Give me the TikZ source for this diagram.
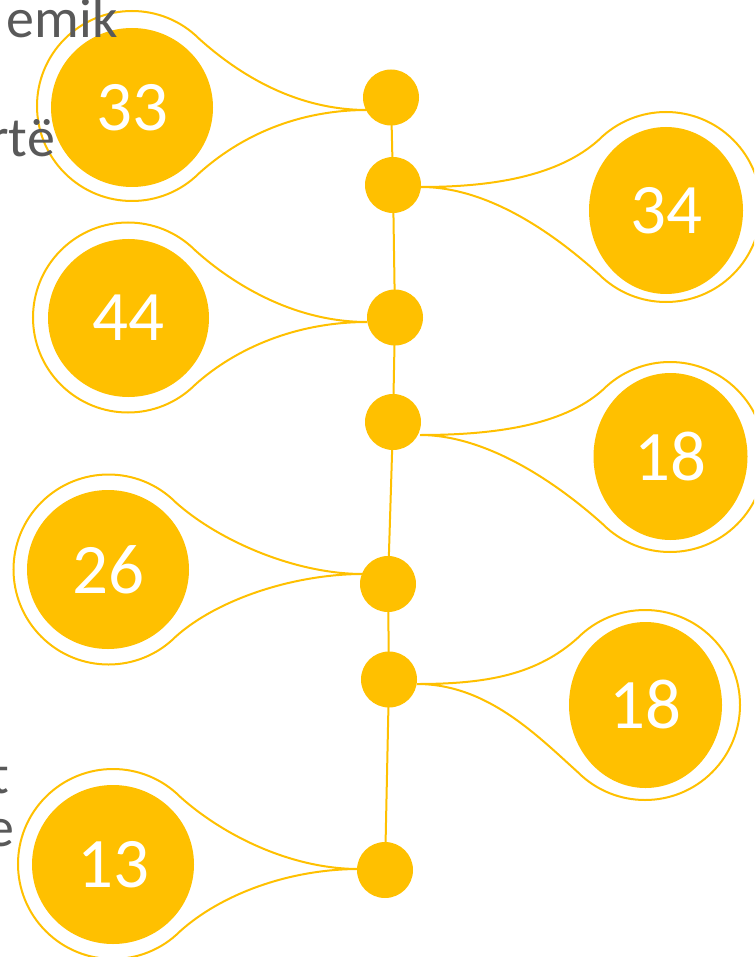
\documentclass[tikz,border=0pt]{standalone}
\usepackage{fontspec}
\setmainfont{Carlito}
\usetikzlibrary{shapes.geometric,calc}
\definecolor{gold}{HTML}{FFC000}
\definecolor{txtgray}{HTML}{595959}
\tikzset{
  txt/.style={text=txtgray, inner sep=0pt, font=\fontsize{56}{66}\selectfont},
  spine/.style={draw=gold, line width=2pt},
  ring/.style={draw=gold, line width=2pt},
  disc/.style={ellipse, fill=gold, draw=none, inner sep=0pt, text=white, font=\fontsize{71}{85}\selectfont},
  dot/.style={circle, fill=gold, draw=none, inner sep=0pt, minimum size=56pt},
}
\begin{document}
\begin{tikzpicture}[x=1pt, y=1pt]
\useasboundingbox (0,0) rectangle (754,-957);
\clip (0,0) rectangle (754,-957);
% dot coordinates
\coordinate (p1) at (391,-97.5);
\coordinate (p2) at (393,-185);
\coordinate (p3) at (395,-317.5);
\coordinate (p4) at (393,-422);
\coordinate (p5) at (388,-584);
\coordinate (p6) at (389,-679.5);
\coordinate (p7) at (385,-870);
% attach points
\coordinate (a1) at (367,-110);
\coordinate (a2) at (421,-187);
\coordinate (a3) at (367,-322);
\coordinate (a4) at (420,-435);
\coordinate (a5) at (363,-574);
\coordinate (a6) at (417,-684);
\coordinate (a7) at (359,-869);
% ring centers
\coordinate (c1) at (132,-106);
\coordinate (c2) at (666,-207);
\coordinate (c3) at (128,-317.5);
\coordinate (c4) at (670,-457);
\coordinate (c5) at (108.5,-569.5);
\coordinate (c6) at (645,-705);
\coordinate (c7) at (113,-864);
% spine
\draw[spine] (p1) -- (p2) -- (p3) -- (p4) -- (p5) -- (p6) -- (p7);
% left balloons
\foreach \i in {1,3,5,7}{
  \draw[ring] (a\i) .. controls +(180:70pt) and +(-42:55pt) .. ($(c\i)+(45:95pt)$)
    arc[start angle=45, end angle=315, radius=95pt]
    .. controls +(42:55pt) and +(180:70pt) .. (a\i);
}
% right balloons
\foreach \i in {2,4,6}{
  \draw[ring] (a\i) .. controls +(0:70pt) and +(222:55pt) .. ($(c\i)+(135:95pt)$)
    arc[start angle=135, end angle=-135, radius=95pt]
    .. controls +(138:55pt) and +(0:70pt) .. (a\i);
}
% filled discs
\node[disc, minimum width=162pt, minimum height=159pt] (n1) at (132,-107.5) {33};
\node[disc, minimum width=154pt, minimum height=167pt] (n2) at (666,-210.5) {34};
\node[disc, minimum width=161pt, minimum height=158pt] (n3) at (128.5,-318) {44};
\node[disc, minimum width=154pt, minimum height=167pt] (n4) at (670.5,-456.5) {18};
\node[disc, minimum width=162pt, minimum height=159pt] (n5) at (108,-569.5) {26};
\node[disc, minimum width=153pt, minimum height=166pt] (n6) at (645.5,-705) {18};
\node[disc, minimum width=162pt, minimum height=159pt] (n7) at (113,-864.5) {13};
% dots
\foreach \i in {1,...,7}{ \node[dot] (d\i) at (p\i) {}; }
% partial texts (on top)
\node[txt, anchor=base east] (t1) at (118,-38) {emik};
\node[txt, anchor=base east] (t2) at (55,-157) {rtë};
\node[txt, anchor=base east] (t3) at (9,-793) {t};
\node[txt, anchor=base east] (t4) at (15,-846) {e};
\end{tikzpicture}
\end{document}
